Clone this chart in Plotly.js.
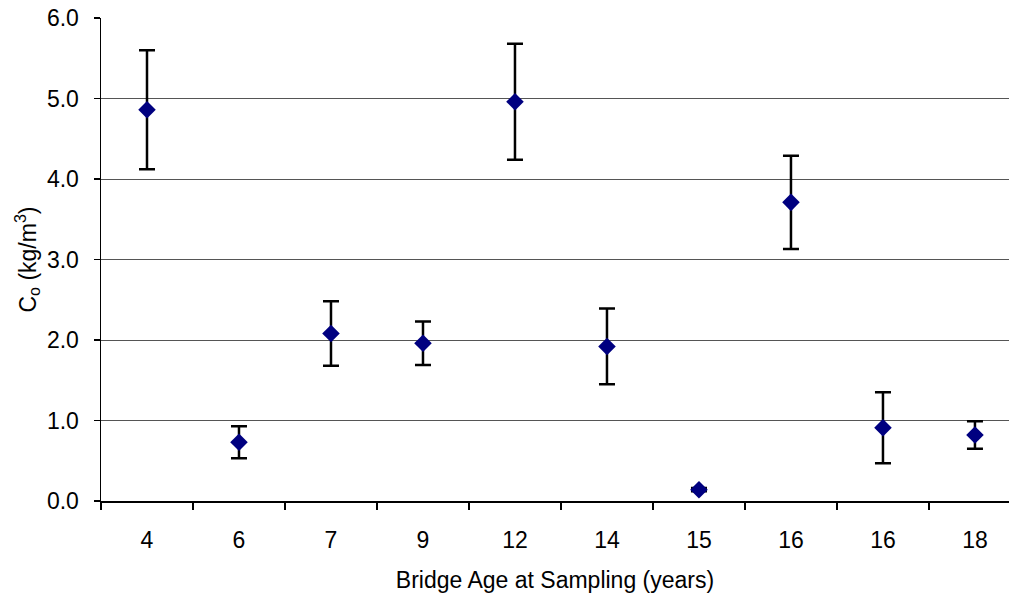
<!DOCTYPE html>
<html>
<head>
<meta charset="utf-8">
<script src="https://cdn.plot.ly/plotly-3.0.1.min.js"></script>
<style>
  html, body { margin: 0; padding: 0; background: #fff; }
  #chart { width: 1009px; height: 600px; }
</style>
</head>
<body>
<div id="chart"></div>
<script>
// Bridge age at sampling (one category per sampled bridge)
var ageLabels = ["4", "6", "7", "9", "12", "14", "15", "16", "16", "18"];
// Surface chloride concentration Co (kg/m3)
var coValues = [4.86, 0.73, 2.08, 1.96, 4.96, 1.92, 0.14, 3.71, 0.91, 0.82];
// Error bar half-lengths (kg/m3)
var coError = [0.74, 0.20, 0.40, 0.27, 0.72, 0.47, 0.02, 0.58, 0.44, 0.17];

var xPos = ageLabels.map(function (_, i) { return i; });

var trace = {
  type: "scatter",
  mode: "markers",
  x: xPos,
  y: coValues,
  marker: { symbol: "diamond", size: 13.5, color: "#000080" },
  error_y: {
    type: "data",
    array: coError,
    visible: true,
    color: "#000000",
    thickness: 2.5,
    width: 8
  },
  hoverinfo: "y",
  showlegend: false
};

var font = { family: "Liberation Sans, Arial, sans-serif", size: 23, color: "#000" };

var layout = {
  width: 1009,
  height: 600,
  margin: { l: 101, r: 0, t: 18, b: 99 },
  paper_bgcolor: "#fff",
  plot_bgcolor: "#fff",
  font: font,
  xaxis: {
    range: [-0.5, 9.37],
    tickvals: xPos,
    ticktext: ageLabels,
    ticks: "",
    tickfont: font,
    ticklabelstandoff: 18,
    showgrid: false,
    zeroline: false,
    showline: true,
    linecolor: "#000",
    linewidth: 1.5,
    minor: {
      tick0: -0.5,
      dtick: 1,
      ticks: "outside",
      ticklen: 7,
      tickwidth: 1.3,
      tickcolor: "#000",
      showgrid: false
    },
    title: { text: "Bridge Age at Sampling (years)", font: font, standoff: 20 },
    fixedrange: true
  },
  yaxis: {
    range: [0, 6],
    dtick: 1,
    tick0: 0,
    tickformat: ".1f",
    tickfont: font,
    ticks: "outside",
    ticklen: 6,
    tickwidth: 1.3,
    tickcolor: "#000",
    ticklabelstandoff: 10,
    showgrid: true,
    gridcolor: "#555",
    gridwidth: 1,
    zeroline: false,
    showline: true,
    linecolor: "#000",
    linewidth: 1.5,
    title: { text: "C<sub>o</sub> (kg/m<sup>3</sup>)", font: font, standoff: 4 },
    fixedrange: true
  }
};

Plotly.newPlot("chart", [trace], layout, { displayModeBar: false, staticPlot: true });
</script>
</body>
</html>
